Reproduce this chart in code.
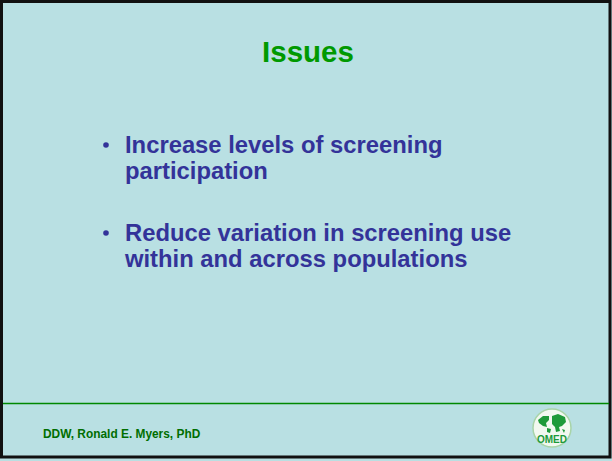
<!DOCTYPE html>
<html>
<head>
<meta charset="utf-8">
<script src="https://cdn.jsdelivr.net/npm/d3@7"></script>
<style>
  body { margin: 0; background: #b9dfe2; }
  svg { display: block; }
</style>
</head>
<body>
<div id="slide"></div>
<script>
const title = 'Issues'
const bullets = [
  ['Increase levels of screening', 'participation'],
  ['Reduce variation in screening use', 'within and across populations']
]
const footer = 'DDW, Ronald E. Myers, PhD'
const logoText = 'OMED'

const width = 612
const height = 461

const svg = d3
  .select('#slide')
  .append('svg')
  .attr('width', width)
  .attr('height', height)

// slide background + frame
svg
  .append('rect')
  .attr('width', width)
  .attr('height', height)
  .attr('fill', '#b9dfe2')
svg
  .append('rect')
  .attr('x', 1.5)
  .attr('y', 1.5)
  .attr('width', 608.5)
  .attr('height', 455.5)
  .attr('fill', '#b9e0e3')
  .attr('stroke', '#111')
  .attr('stroke-width', 3)

svg
  .append('text')
  .attr('x', 308)
  .attr('y', 62)
  .attr('text-anchor', 'middle')
  .style('font-family', 'Liberation Sans, Arial, sans-serif')
  .style('font-weight', 'bold')
  .style('font-size', '29.5px')
  .attr('fill', '#009900')
  .text(title)

// bullets placed with a point scale
const y = d3
  .scalePoint()
  .domain(d3.range(bullets.length))
  .range([153, 241])

const items = svg
  .selectAll('.bullet')
  .data(bullets)
  .join('g')
  .attr('class', 'bullet')
  .attr('transform', (d, i) => `translate(0,${y(i)})`)
  .style('font-family', 'Liberation Sans, Arial, sans-serif')
  .style('font-weight', 'bold')
  .attr('fill', '#333399')

items
  .append('circle')
  .attr('cx', 106)
  .attr('cy', -8)
  .attr('r', 2.8)

items
  .selectAll('text')
  .data(d => d)
  .join('text')
  .attr('x', 125)
  .attr('y', (d, i) => i * 26)
  .style('font-size', '23.8px')
  .text(d => d)

// footer
svg
  .append('line')
  .attr('x1', 3)
  .attr('x2', 609)
  .attr('y1', 403.5)
  .attr('y2', 403.5)
  .attr('stroke', '#008800')
  .attr('stroke-width', 1.5)

svg
  .append('text')
  .attr('x', 43)
  .attr('y', 438)
  .style('font-family', 'Liberation Sans, Arial, sans-serif')
  .style('font-weight', 'bold')
  .style('font-size', '11.9px')
  .attr('fill', '#006e00')
  .text(footer)

// logo
const logo = svg.append('g').attr('transform', 'translate(552,428)')
logo
  .append('circle')
  .attr('r', 19)
  .attr('fill', '#f2f8f0')
  .attr('stroke', '#a8d4a8')
  .attr('stroke-width', 1.5)
logo
  .append('path')
  .attr('d', 'M-14,-8 L-9,-12 L-3,-12 L-3,-8 L-6,-5 L-5,-1 L-9,-2 L-13,-5 Z M-5,0 L-1,1 L-2,5 L-5,4 Z M0,-12 L6,-14 L13,-11 L14,-6 L10,-2 L7,-1 L8,3 L4,4 L3,-1 L0,-4 Z M10,1 L13,2 L12,5 Z')
  .attr('fill', '#1e9a3a')
logo
  .append('text')
  .attr('y', 15)
  .attr('text-anchor', 'middle')
  .style('font-family', 'Liberation Sans, Arial, sans-serif')
  .style('font-weight', 'bold')
  .style('font-size', '10px')
  .attr('fill', '#1e9a3a')
  .text(logoText)
</script>
</body>
</html>
